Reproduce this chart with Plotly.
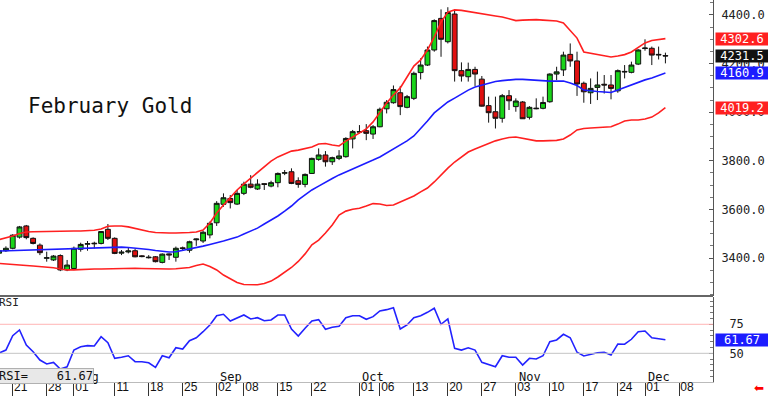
import pandas as pd
import plotly.graph_objects as go

# ---------------- data ----------------
holidays = ["2025-09-01", "2025-11-27"]
calendar = [d.strftime("%Y-%m-%d") for d in pd.bdate_range("2025-07-17", "2025-12-31")
            if d.strftime("%Y-%m-%d") not in holidays]
cal_index = {d: i for i, d in enumerate(calendar)}

opens = [3420, 3430, 3440, 3486, 3532, 3481, 3453, 3399, 3392, 3410,
         3351, 3357, 3436, 3457, 3461, 3460, 3518, 3481, 3420, 3425,
         3430, 3409, 3401, 3405, 3382, 3417, 3403, 3442, 3432, 3475,
         3470, 3495, 3545, 3621, 3645, 3622, 3666, 3704, 3684, 3706,
         3696, 3710, 3749, 3755, 3718, 3703, 3748, 3806, 3824, 3796,
         3810, 3817, 3890, 3918, 3924, 3910, 3940, 4014, 4039, 4080,
         4020, 4057, 4163, 4194, 4256, 4386, 4290, 4404, 4171, 4146,
         4176, 4136, 4027, 4002, 3975, 4068, 4023, 4042, 3979, 4014,
         4016, 4043, 4157, 4174, 4238, 4211, 4119, 4080, 4102, 4115,
         4112, 4088, 4168, 4164, 4198, 4262, 4263, 4238, 4233]
highs = [3438, 3448, 3498, 3532, 3536, 3485, 3460, 3426, 3412, 3415,
         3392, 3447, 3463, 3470, 3467, 3511, 3540, 3485, 3433, 3442,
         3437, 3412, 3412, 3408, 3419, 3419, 3447, 3447, 3471, 3480,
         3512, 3550, 3634, 3666, 3659, 3680, 3714, 3741, 3724, 3707,
         3718, 3752, 3762, 3769, 3732, 3748, 3813, 3851, 3840, 3817,
         3844, 3897, 3927, 3947, 3951, 3947, 4019, 4050, 4110, 4108,
         4071, 4167, 4222, 4270, 4382, 4423, 4432, 4421, 4205, 4204,
         4187, 4149, 4064, 4064, 4075, 4091, 4057, 4046, 4025, 4057,
         4064, 4160, 4187, 4249, 4283, 4249, 4126, 4139, 4167, 4153,
         4153, 4176, 4194, 4208, 4259, 4300, 4270, 4270, 4245]
lows = [3415, 3425, 3436, 3480, 3477, 3456, 3412, 3385, 3388, 3346,
        3346, 3350, 3426, 3430, 3440, 3456, 3474, 3416, 3412, 3419,
        3403, 3403, 3398, 3382, 3378, 3392, 3385, 3433, 3422, 3450,
        3462, 3481, 3532, 3611, 3604, 3618, 3659, 3687, 3680, 3680,
        3691, 3691, 3741, 3704, 3689, 3691, 3746, 3800, 3776, 3783,
        3803, 3813, 3851, 3913, 3885, 3890, 3938, 3995, 4035, 3988,
        4016, 4050, 4135, 4190, 4249, 4228, 4283, 4126, 4126, 4126,
        4108, 4023, 3957, 3933, 3957, 4009, 4002, 3972, 3970, 4012,
        4012, 4039, 4132, 4149, 4187, 4067, 4039, 4034, 4050, 4077,
        4053, 4080, 4139, 4160, 4194, 4253, 4194, 4217, 4201]
closes = [3430, 3440, 3494, 3528, 3484, 3460, 3422, 3401, 3408, 3351,
          3371, 3440, 3456, 3459, 3459, 3509, 3481, 3419, 3424, 3429,
          3405, 3406, 3403, 3385, 3416, 3413, 3440, 3439, 3467, 3478,
          3506, 3543, 3625, 3648, 3628, 3666, 3704, 3691, 3704, 3703,
          3710, 3748, 3751, 3707, 3703, 3744, 3810, 3824, 3796, 3813,
          3820, 3892, 3920, 3920, 3913, 3940, 4012, 4041, 4093, 4023,
          4064, 4160, 4194, 4256, 4377, 4300, 4410, 4171, 4149, 4176,
          4157, 4025, 3998, 3975, 4068, 4047, 4046, 3973, 4020, 4016,
          4040, 4157, 4166, 4235, 4211, 4116, 4084, 4098, 4112, 4112,
          4098, 4171, 4166, 4194, 4256, 4264, 4235, 4236, 4231.5]
upper_band = [3476, 3482, 3491, 3501, 3507, 3508, 3509, 3509, 3510, 3510,
              3510, 3511, 3511, 3512, 3514, 3519, 3531, 3532, 3532, 3528,
              3521, 3515, 3509, 3505, 3503, 3503, 3503, 3503, 3505, 3507,
              3515, 3544, 3585, 3618, 3651, 3680, 3705, 3729, 3754, 3779,
              3799, 3816, 3828, 3840, 3844, 3851, 3857, 3869, 3871, 3865,
              3861, 3881, 3898, 3914, 3931, 3960, 4001, 4038, 4071, 4100,
              4145, 4190, 4215, 4256, 4309, 4371, 4412, 4421, 4419, 4414,
              4408, 4404, 4400, 4396, 4392, 4384, 4377, 4379, 4381, 4381,
              4379, 4377, 4375, 4367, 4338, 4305, 4248, 4242, 4237, 4231,
              4227, 4231, 4237, 4248, 4266, 4285, 4295, 4299, 4302.6]
middle_band = [3429, 3430, 3431, 3432, 3433, 3434, 3436, 3437, 3438, 3439,
               3440, 3440, 3441, 3442, 3443, 3444, 3445, 3447, 3445, 3443,
               3441, 3438, 3435, 3431, 3427, 3425, 3426, 3431, 3437, 3443,
               3449, 3456, 3462, 3470, 3478, 3486, 3499, 3511, 3523, 3540,
               3556, 3573, 3593, 3614, 3639, 3659, 3680, 3696, 3713, 3727,
               3742, 3754, 3764, 3777, 3791, 3803, 3816, 3832, 3849, 3865,
               3882, 3902, 3931, 3964, 3997, 4021, 4042, 4058, 4075, 4091,
               4104, 4112, 4120, 4126, 4130, 4133, 4135, 4135, 4133, 4130,
               4130, 4128, 4128, 4128, 4120, 4110, 4091, 4087, 4085, 4083,
               4081, 4091, 4102, 4110, 4122, 4133, 4141, 4151, 4160.9]
lower_band = [3378, 3375, 3373, 3371, 3369, 3367, 3365, 3363, 3360, 3355,
              3351, 3351, 3353, 3354, 3355, 3355, 3356, 3357, 3358, 3358,
              3358, 3357, 3356, 3355, 3355, 3355, 3356, 3358, 3361, 3369,
              3375, 3365, 3351, 3330, 3314, 3299, 3291, 3289, 3290, 3295,
              3305, 3322, 3342, 3361, 3386, 3417, 3454, 3474, 3503, 3536,
              3577, 3593, 3601, 3605, 3614, 3624, 3622, 3616, 3618, 3630,
              3643, 3655, 3672, 3688, 3713, 3742, 3770, 3795, 3816, 3836,
              3849, 3861, 3873, 3882, 3890, 3896, 3898, 3892, 3886, 3882,
              3882, 3882, 3884, 3890, 3906, 3927, 3933, 3935, 3937, 3939,
              3940, 3951, 3964, 3968, 3968, 3972, 3980, 3997, 4019.2]
rsi = [50.3, 52.8, 65.2, 70.1, 57.2, 51.4, 44.2, 40.8, 42.2, 36.5,
       38.4, 52.8, 55.7, 56.6, 56.3, 64.3, 59.1, 45.7, 46.6, 47.9,
       42.8, 42.8, 41.9, 37.9, 47.9, 46.2, 54.8, 53.7, 60.9, 63.4,
       68.6, 74.4, 82.4, 83.6, 77.8, 80.7, 83.0, 79.6, 80.7, 78.1,
       78.7, 83.0, 83.0, 70.9, 64.9, 71.6, 77.8, 79.0, 70.7, 72.4,
       73.3, 80.7, 82.4, 82.4, 79.3, 81.6, 86.5, 87.6, 89.3, 70.9,
       74.4, 80.7, 82.4, 85.3, 88.8, 75.0, 79.6, 54.3, 52.8, 54.8,
       52.8, 42.2, 40.5, 38.4, 47.9, 46.6, 46.6, 39.9, 45.7, 45.1,
       47.9, 60.0, 61.5, 66.4, 63.4, 50.9, 47.7, 49.1, 50.5, 50.9,
       48.5, 58.0, 57.8, 62.1, 68.6, 69.2, 63.4, 62.6, 61.67]

dates = calendar[:len(closes)]
tick_dates = ["2025-07-21", "2025-07-28", "2025-08-01", "2025-08-11", "2025-08-18",
              "2025-08-25", "2025-09-02", "2025-09-08", "2025-09-15", "2025-09-22",
              "2025-10-01", "2025-10-06", "2025-10-13", "2025-10-20", "2025-10-27",
              "2025-11-03", "2025-11-10", "2025-11-17", "2025-11-24", "2025-12-01",
              "2025-12-08"]
tick_labels = [d[-2:] for d in tick_dates]
month_dates = ["2025-08-01", "2025-09-02", "2025-10-01", "2025-11-03", "2025-12-01"]
month_labels = ["Aug", "Sep", "Oct", "Nov", "Dec"]
price_ticks = [3400, 3600, 3800, 4000, 4200, 4400]
rsi_ticks = [50, 75]

x = [cal_index[d] for d in dates]
tick_x = [cal_index[d] for d in tick_dates]
month_x = [cal_index[d] for d in month_dates]
x0 = cal_index["2025-07-21"]

# ---------------- figure ----------------
W, H = 768, 396
PLOT_R = 713
main_bottom = 296
rsi_top, rsi_bottom = 297, 382

def py(px):
    return 1 - px / H

fig = go.Figure()
fig.add_trace(go.Candlestick(
    x=x, open=opens, high=highs, low=lows, close=closes,
    increasing=dict(line=dict(color="#111111", width=1), fillcolor="#19d419"),
    decreasing=dict(line=dict(color="#111111", width=1), fillcolor="#e01010"),
    whiskerwidth=0, showlegend=False, hoverinfo="skip", xaxis="x", yaxis="y"))
fig.add_trace(go.Scatter(x=x, y=upper_band, mode="lines", line=dict(color="#ff2020", width=1.6),
                         showlegend=False, hoverinfo="skip"))
fig.add_trace(go.Scatter(x=x, y=lower_band, mode="lines", line=dict(color="#ff2020", width=1.6),
                         showlegend=False, hoverinfo="skip"))
fig.add_trace(go.Scatter(x=x, y=middle_band, mode="lines", line=dict(color="#1c1cff", width=1.6),
                         showlegend=False, hoverinfo="skip"))
fig.add_trace(go.Scatter(x=x, y=rsi, mode="lines", line=dict(color="#2222ff", width=1.6),
                         showlegend=False, hoverinfo="skip", xaxis="x2", yaxis="y2"))
# empty traces so the date-row axes (x3, x4 on y3) are drawn
fig.add_trace(go.Scatter(x=x, y=[None] * len(x), mode="lines", showlegend=False,
                         hoverinfo="skip", xaxis="x3", yaxis="y3"))
fig.add_trace(go.Scatter(x=x, y=[None] * len(x), mode="lines", showlegend=False,
                         hoverinfo="skip", xaxis="x4", yaxis="y3"))

xr = [x0 - 1.87, x0 + 103.0]
mono = "DejaVu Sans Mono"
axis_common = dict(showgrid=False, zeroline=False)

fig.update_layout(
    width=W, height=H,
    margin=dict(l=0, r=W - PLOT_R, t=0, b=0),
    paper_bgcolor="white", plot_bgcolor="white",
    boxgap=0.28, boxgroupgap=0,
    xaxis=dict(domain=[0, 1], range=xr, anchor="y", showticklabels=False, ticks="",
               rangeslider=dict(visible=False), **axis_common),
    yaxis=dict(domain=[py(main_bottom), 1], range=[3243.7, 4461.7], side="right", anchor="x",
               tickvals=price_ticks, ticktext=[f"{v:.1f}" for v in price_ticks],
               ticks="inside", ticklen=4, tickcolor="#555", showline=True, linecolor="#555",
               linewidth=1, ticklabelstandoff=5,
               minor=dict(dtick=50, ticks="inside", ticklen=3, tickcolor="#777"),
               tickfont=dict(family=mono, size=12, color="#222"), **axis_common),
    xaxis2=dict(domain=[0, 1], matches="x", anchor="y2", showticklabels=False, ticks="",
                showline=True, linecolor="#bbbbbb", **axis_common),
    yaxis2=dict(domain=[py(rsi_bottom), py(rsi_top)], range=[25.3, 98.5], side="right", anchor="x2",
                tickvals=rsi_ticks, ticktext=[str(v) for v in rsi_ticks],
                ticks="inside", ticklen=4, tickcolor="#555", showline=True, linecolor="#555",
                ticklabelstandoff=13,
                minor=dict(dtick=5, ticks="inside", ticklen=3, tickcolor="#777"),
                tickfont=dict(family=mono, size=12, color="#222"), **axis_common),
    # tick separators of the date row
    xaxis3=dict(domain=[0, 1], matches="x", anchor="y3", tickvals=tick_x, showticklabels=False,
                ticks="inside", ticklen=13, tickcolor="#333", tickwidth=1, showline=False,
                **axis_common),
    # day labels of the date row, just right of each separator
    xaxis4=dict(domain=[0, 1], matches="x", anchor="y3", overlaying="x3",
                tickvals=tick_x, ticktext=tick_labels, ticks="",
                ticklabelposition="inside", ticklabelshift=8, showline=False,
                tickfont=dict(family="Liberation Sans", size=12, color="#111"), **axis_common),
    yaxis3=dict(domain=[0, py(rsi_bottom)], range=[0, 1], anchor="x3", visible=False),
)

shapes = [
    dict(type="line", xref="paper", yref="paper", x0=0, x1=1, y0=py(main_bottom), y1=py(main_bottom),
         line=dict(color="#666666", width=2)),
    dict(type="line", xref="x2 domain", yref="y2", x0=0, x1=1, y0=75, y1=75,
         line=dict(color="#ffb4b4", width=1)),
    dict(type="line", xref="x2 domain", yref="y2", x0=0, x1=1, y0=50, y1=50,
         line=dict(color="#c4c4c4", width=1)),
]
fig.update_layout(shapes=shapes)

ann = []
ann.append(dict(text="February Gold", xref="paper", yref="paper", x=26 / PLOT_R, y=py(106),
                xanchor="left", yanchor="middle", showarrow=False,
                font=dict(family=mono, size=21, color="#111")))
for mx, ml in zip(month_x, month_labels):
    ann.append(dict(text=ml, xref="x", yref="paper", x=mx, y=py(377), xanchor="left",
                    yanchor="middle", xshift=1, showarrow=False,
                    font=dict(family=mono, size=12, color="#111")))
ann.append(dict(text="RSI=    " + f"{rsi[-1]:.2f}", xref="paper", yref="paper", x=0, y=py(376),
                xanchor="left", yanchor="middle", xshift=-2, showarrow=False, align="left",
                bgcolor="#e8e8e8", bordercolor="#b0b0b0", borderwidth=1, borderpad=0,
                font=dict(family=mono, size=12, color="#111")))
ann.append(dict(text="RSI", xref="paper", yref="paper", x=0, y=py(302), xanchor="left",
                yanchor="middle", xshift=-3, showarrow=False,
                font=dict(family=mono, size=11, color="#222")))
boxes = [(upper_band[-1], "#ff2020", "y"), (closes[-1], "#111111", "y"),
         (middle_band[-1], "#1c1cff", "y"), (lower_band[-1], "#ff2020", "y")]
for val, col, yr in boxes:
    ann.append(dict(text=f"{val:.1f}", xref="paper", yref=yr, x=1, y=val, xanchor="left",
                    yanchor="middle", xshift=2, showarrow=False, bgcolor=col, width=52, height=12,
                    borderpad=0, font=dict(family=mono, size=12, color="white")))
ann.append(dict(text=f"{rsi[-1]:.2f}", xref="paper", yref="y2", x=1, y=rsi[-1], xanchor="left",
                yanchor="middle", xshift=2, showarrow=False, bgcolor="#1c1cff", width=52, height=12,
                borderpad=0, font=dict(family=mono, size=12, color="white")))
ann.append(dict(text="⬅", xref="paper", yref="paper", x=759 / PLOT_R, y=py(388), xanchor="center",
                yanchor="middle", showarrow=False, font=dict(family="DejaVu Sans", size=12, color="#ff0000")))
fig.update_layout(annotations=ann)

fig.write_html("out.html", config={"displayModeBar": False},
               post_script="document.body.style.margin='0';document.body.style.overflow='hidden';")
